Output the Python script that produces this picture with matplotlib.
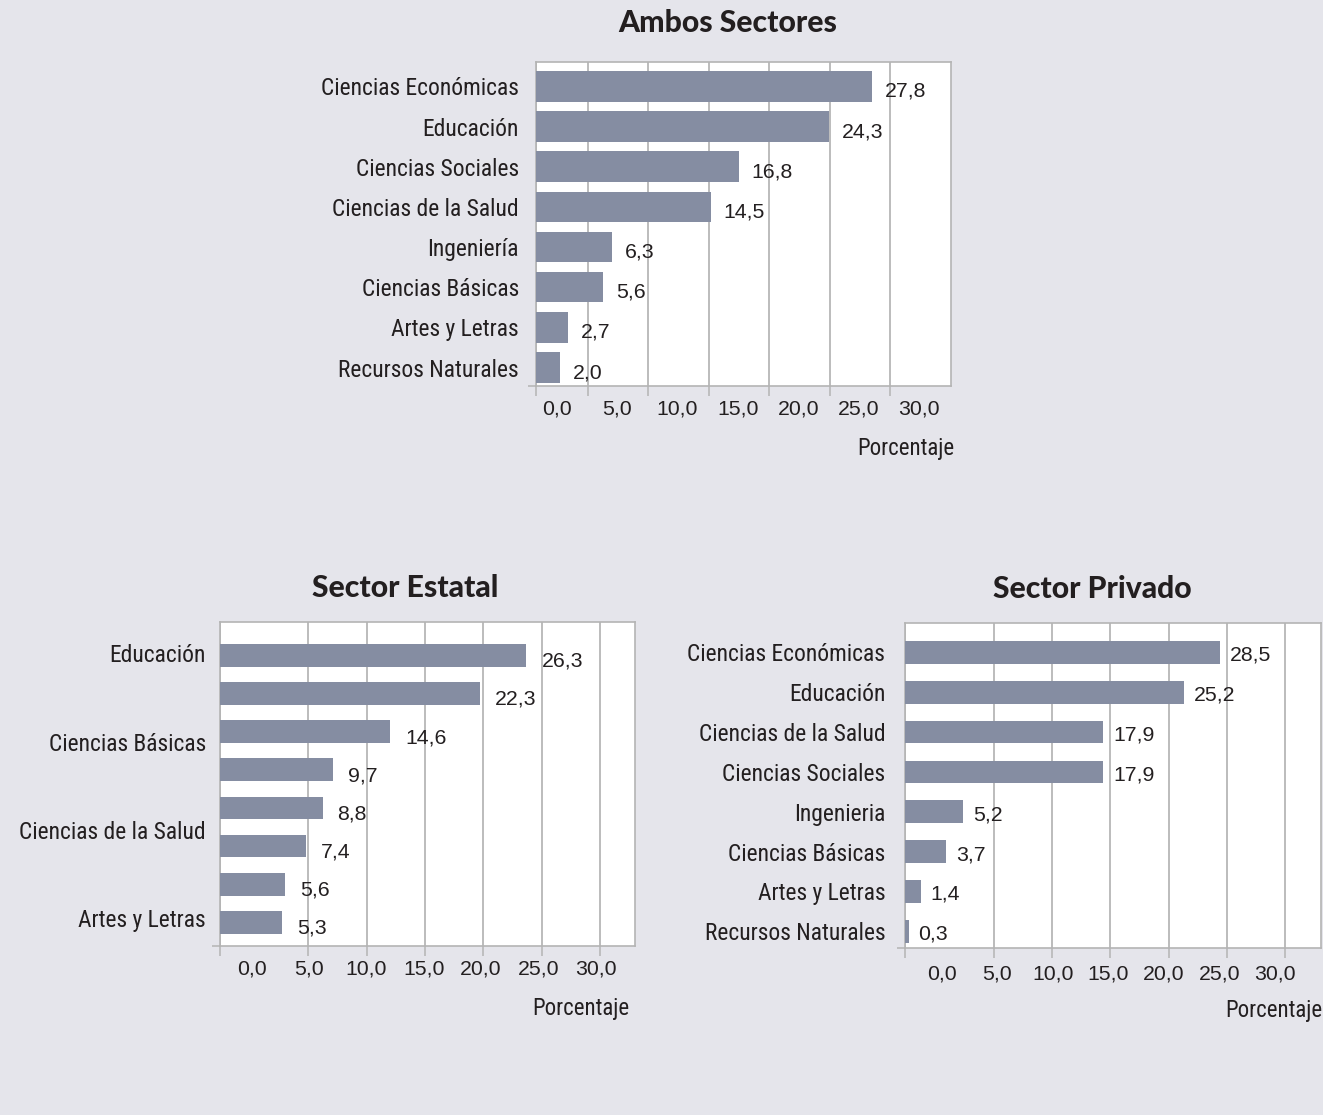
import os
import matplotlib
matplotlib.use("Agg")
import matplotlib.pyplot as plt
from matplotlib import font_manager
from matplotlib.font_manager import FontProperties
import numpy as np

# ---------------- data ----------------
ambos_cats = ["Ciencias Económicas", "Educación", "Ciencias Sociales", "Ciencias de la Salud",
              "Ingeniería", "Ciencias Básicas", "Artes y Letras", "Recursos Naturales"]
ambos_vals = [27.8, 24.3, 16.8, 14.5, 6.3, 5.6, 2.7, 2.0]

estatal_labels = ["Educación", "Ciencias Básicas", "Ciencias de la Salud", "Artes y Letras"]
estatal_vals = [26.3, 22.3, 14.6, 9.7, 8.8, 7.4, 5.6, 5.3]

privado_cats = ["Ciencias Económicas", "Educación", "Ciencias de la Salud", "Ciencias Sociales",
                "Ingenieria", "Ciencias Básicas", "Artes y Letras", "Recursos Naturales"]
privado_vals = [28.5, 25.2, 17.9, 17.9, 5.2, 3.7, 1.4, 0.3]

tick_labels = ["0,0", "5,0", "10,0", "15,0", "20,0", "25,0", "30,0"]
titles = ["Ambos Sectores", "Sector Estatal", "Sector Privado"]
axis_title = "Porcentaje"

# ---------------- style ----------------
W, H = 1323, 1115
BG = "#e5e5eb"
BAR = "#858da2"
TXT = "#231f20"
SPINE = "#b4b4b4"
GRID = "#aaaaaa"
REG = "Liberation Sans"
NUM_SIZE = 15.3


def find_narrow():
    bad = ("bold", "italic", "light", "thin", "medium", "black", "semi", "extra",
           "oblique", "mono", "serif", "heavy", "ultra")
    files = []
    for f in font_manager.fontManager.ttflist:
        b = os.path.basename(f.fname)
        low = b.lower()
        if ("narrow" in low or "condensed" in low) and not any(w in low for w in bad):
            files.append(f.fname)
    prefs = ["liberationsansnarrow", "robotocondensed", "notosans-condensed", "notosanscondensed",
             "dejavusanscondensed", "opensans", "lato", "inter"]
    for p in prefs:
        for fn in files:
            if os.path.basename(fn).lower().replace("_", "").startswith(p):
                return FontProperties(fname=fn)
    if files:
        return FontProperties(fname=files[0])
    return FontProperties(family=REG)


def find_heavy():
    names = {f.name: f for f in font_manager.fontManager.ttflist}
    for f in font_manager.fontManager.ttflist:
        if f.name == "Lato" and f.style == "normal" and f.weight in (900, "black", "heavy"):
            return FontProperties(fname=f.fname)
    for f in font_manager.fontManager.ttflist:
        if f.name == "Roboto" and f.style == "normal" and f.weight in (900, "black", "heavy"):
            return FontProperties(fname=f.fname)
    return FontProperties(family=REG, weight="bold")


NARROW = find_narrow()
HEAVY = find_heavy()

fig = plt.figure(figsize=(W / 100, H / 100), dpi=100, facecolor=BG)
renderer = fig.canvas.get_renderer()


def fit_size(text, target_px, fp):
    t = fig.text(0, 0, text, fontproperties=fp, fontsize=20)
    w = t.get_window_extent(renderer).width
    t.remove()
    return 20 * target_px / w


CAT_SIZE = fit_size("Ciencias Económicas", 198, NARROW)
PORC_SIZE = fit_size(axis_title, 97, NARROW)
TITLE_SIZE = fit_size(titles[0], 219, HEAVY)


def fmt(v):
    return f"{v:.1f}".replace(".", ",")


def rect(l, t, r, b):
    return [l / W, 1 - b / H, (r - l) / W, (b - t) / H]


def panel(box, vals, ylabels, ylabel_pos, xmax, grid0, gstep, lab0, lstep,
          ylim, bar_h, ypad, xpad, val_off, porc_xy, title, title_xy):
    ax = fig.add_axes(rect(*box))
    ax.set_facecolor("white")
    y = np.arange(len(vals))
    ax.barh(y, vals, height=bar_h, color=BAR, zorder=3)
    ax.set_xlim(0, xmax)
    ax.set_ylim(*ylim)

    grid = grid0 + gstep * np.arange(6)
    ax.set_xticks(np.concatenate([[0], grid]))
    ax.set_xticklabels([])
    ax.grid(axis="x", which="major", color=GRID, lw=1.1, zorder=1)
    ax.set_xticks(lab0 + lstep * np.arange(len(tick_labels)), minor=True)
    ax.set_xticklabels(tick_labels, minor=True, fontsize=NUM_SIZE, family=REG, color=TXT)
    ax.tick_params(axis="x", which="major", direction="out", length=7, width=1.1, color=SPINE)
    ax.tick_params(axis="x", which="minor", length=0, pad=xpad)

    ax.set_yticks([ylim[0]])
    ax.set_yticklabels([])
    ax.set_yticks(ylabel_pos, minor=True)
    ax.set_yticklabels(ylabels, minor=True, color=TXT)
    for lab in ax.get_yticklabels(minor=True):
        lab.set_fontproperties(NARROW)
        lab.set_fontsize(CAT_SIZE)
    ax.tick_params(axis="y", which="major", direction="out", length=6, width=1.1, color=SPINE)
    ax.tick_params(axis="y", which="minor", length=0, pad=ypad)

    for s in ax.spines.values():
        s.set_color(SPINE)
        s.set_linewidth(1.2)

    for yi, v in zip(y, vals):
        ax.annotate(fmt(v), (v, yi), xytext=(val_off[0], -val_off[1]),
                    textcoords="offset pixels", va="center", ha="left",
                    fontsize=NUM_SIZE, family=REG, color=TXT, zorder=4)

    t = fig.text(porc_xy[0] / W, 1 - porc_xy[1] / H, axis_title, ha="right", va="center",
                 color=TXT, fontproperties=NARROW)
    t.set_fontsize(PORC_SIZE)
    tt = fig.text(title_xy[0] / W, 1 - title_xy[1] / H, title, ha="center", va="center",
                  color=TXT, fontproperties=HEAVY)
    tt.set_fontsize(TITLE_SIZE)
    return ax


# Ambos Sectores (top)
panel((535.7, 62.3, 951, 386), ambos_vals, ambos_cats, np.arange(len(ambos_cats)),
      34.38, 4.3, 5.01, 1.74, 5.0, (7.46, -0.6), 0.76, 12, 9.5,
      (13, 5), (954, 448), titles[0], (728, 23))

# Sector Estatal (bottom left)
panel((220, 622.3, 635.3, 946), estatal_vals, estatal_labels,
      -0.05 + 2.31 * np.arange(len(estatal_labels)),
      35.65, 7.58, 5.01, 2.72, 4.92, (7.62, -0.865), 0.595, 10, 9.5,
      (15, 6), (629, 1009), titles[1], (405, 588))

# Sector Privado (bottom right)
panel((905.3, 623.3, 1321, 948.3), privado_vals, privado_cats, np.arange(len(privado_cats)),
      37.62, 8.0, 5.28, 3.3, 5.03, (7.43, -0.73), 0.57, 14.5, 11.5,
      (10, 3), (1322, 1010), titles[2], (1092, 589))

fig.savefig("out.png", dpi=100, facecolor=BG)
